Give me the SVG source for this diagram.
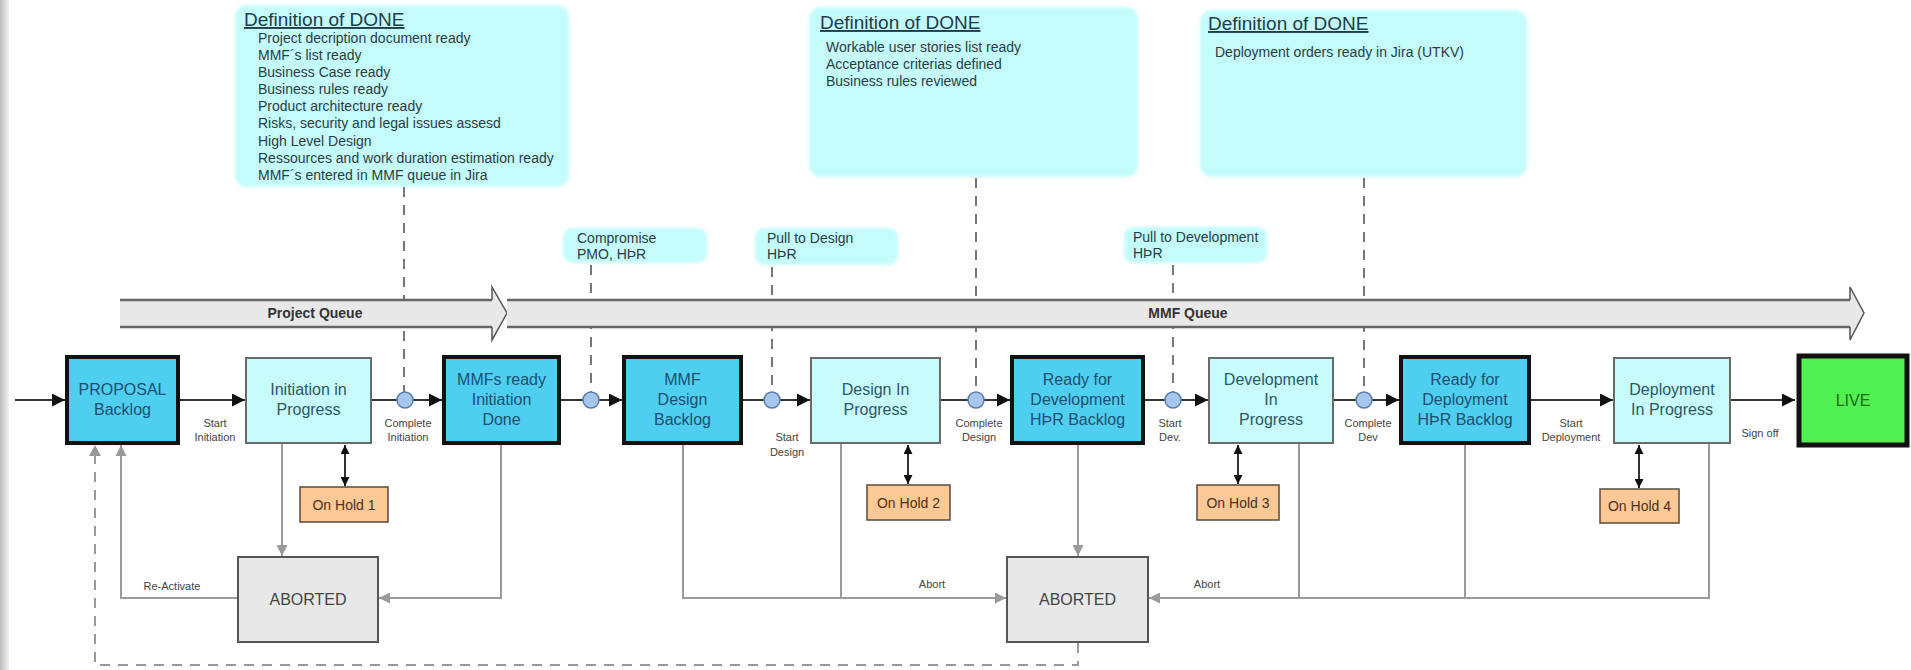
<svg xmlns="http://www.w3.org/2000/svg" width="1911" height="670" viewBox="0 0 1911 670">
<style>
.t{font-family:"Liberation Sans",Arial,Helvetica,sans-serif}
.dark{fill:#4fcff0;stroke:#111;stroke-width:4}
.light{fill:#c8fcfc;stroke:#6a6a6a;stroke-width:2}
.hold{fill:#fcc896;stroke:#5a4a3a;stroke-width:1.5}
.abort{fill:#e8e8e8;stroke:#555;stroke-width:2}
.live{fill:#4ff04f;stroke:#111;stroke-width:5}
.dod{fill:#c4fcfc}
.bx{font-size:16px;fill:#1d4e70;text-anchor:middle}
.lb{font-size:16px;fill:#2a5866;text-anchor:middle}
.ab{font-size:16px;fill:#444;text-anchor:middle}
.hl{font-size:14px;fill:#4a3020;text-anchor:middle}
.sm{font-size:11px;fill:#444;text-anchor:middle}
.dt{font-size:14px;fill:#2b3b44}
.ttl{font-size:19px;fill:#1f3b4b;text-decoration:underline}
.q{font-size:14px;font-weight:bold;fill:#333;text-anchor:middle}
.flow{stroke:#333;stroke-width:2;fill:none}
.gray{stroke:#9a9a9a;stroke-width:2;fill:none}
.dash{stroke:#777;stroke-width:2;stroke-dasharray:10 8;fill:none}
.circ{fill:#a6c6ee;stroke:#5a7aa8;stroke-width:1.5}
.bar{fill:#e8e8e8}
.barline{fill:none;stroke:#666;stroke-width:2.5}
</style>
<defs>
<linearGradient id="edge" x1="0" x2="1" y1="0" y2="0"><stop offset="0" stop-color="#bdbdbd"/><stop offset="1" stop-color="#f2f2f2"/></linearGradient>
<filter id="soft" x="-5%" y="-5%" width="110%" height="110%"><feGaussianBlur stdDeviation="1.5"/></filter>
<marker id="ab" viewBox="0 0 10 10" refX="10" refY="5" markerWidth="13" markerHeight="13" markerUnits="userSpaceOnUse" orient="auto"><path d="M0,0 L10,5 L0,10 z" fill="#111"/></marker>
<marker id="as" viewBox="0 0 10 10" refX="10" refY="5" markerWidth="9" markerHeight="9" markerUnits="userSpaceOnUse" orient="auto-start-reverse"><path d="M0,0 L10,5 L0,10 z" fill="#111"/></marker>
<marker id="ag" viewBox="0 0 10 10" refX="10" refY="5" markerWidth="11" markerHeight="11" markerUnits="userSpaceOnUse" orient="auto"><path d="M0,0 L10,5 L0,10 z" fill="#9a9a9a"/></marker>
</defs>
<rect x="0" y="0" width="1911" height="670" fill="#fff"/>
<rect x="0" y="0" width="9" height="670" fill="url(#edge)"/>

<g id="dod1">
<rect class="dod" x="235" y="5" width="334" height="182" rx="12" filter="url(#soft)"/>
<text class="t ttl" x="244" y="26">Definition of DONE</text>
<text class="t dt" x="258" y="43">Project decription document ready</text>
<text class="t dt" x="258" y="60">MMF´s list ready</text>
<text class="t dt" x="258" y="77">Business Case ready</text>
<text class="t dt" x="258" y="94">Business rules ready</text>
<text class="t dt" x="258" y="111">Product architecture ready</text>
<text class="t dt" x="258" y="128">Risks, security and legal issues assesd</text>
<text class="t dt" x="258" y="146">High Level Design</text>
<text class="t dt" x="258" y="163">Ressources and work duration estimation ready</text>
<text class="t dt" x="258" y="180">MMF´s entered in MMF queue in Jira</text>
</g>
<g id="dod2">
<rect class="dod" x="809" y="7" width="329" height="170" rx="12" filter="url(#soft)"/>
<text class="t ttl" x="820" y="29">Definition of DONE</text>
<text class="t dt" x="826" y="52">Workable user stories list ready</text>
<text class="t dt" x="826" y="69">Acceptance criterias defined</text>
<text class="t dt" x="826" y="86">Business rules reviewed</text>
</g>
<g id="dod3">
<rect class="dod" x="1200" y="10" width="327" height="167" rx="12" filter="url(#soft)"/>
<text class="t ttl" x="1208" y="30">Definition of DONE</text>
<text class="t dt" x="1215" y="57">Deployment orders ready in Jira (UTKV)</text>
</g>
<g id="compromise">
<rect class="dod" x="563" y="228" width="144" height="35" rx="9" filter="url(#soft)"/>
<text class="t dt" x="577" y="243">Compromise</text>
<text class="t dt" x="577" y="259">PMO, HÞR</text>
</g>
<g id="pulldesign">
<rect class="dod" x="755" y="228" width="143" height="37" rx="9" filter="url(#soft)"/>
<text class="t dt" x="767" y="243">Pull to Design</text>
<text class="t dt" x="767" y="259">HÞR</text>
</g>
<g id="pulldev">
<rect class="dod" x="1124" y="227" width="143" height="36" rx="9" filter="url(#soft)"/>
<text class="t dt" x="1133" y="242">Pull to Development</text>
<text class="t dt" x="1133" y="258">HÞR</text>
</g>

<g id="connectors">
<path class="dash" d="M404,187 V392"/>
<path class="dash" d="M591,265 V392"/>
<path class="dash" d="M772,267 V392"/>
<path class="dash" d="M976,178 V392"/>
<path class="dash" d="M1173,265 V392"/>
<path class="dash" d="M1364,178 V392"/>
<path class="flow" d="M15,400 H65" marker-end="url(#ab)"/>
<path class="flow" d="M180,400 H245" marker-end="url(#ab)"/>
<path class="flow" d="M372,400 H442" marker-end="url(#ab)"/>
<path class="flow" d="M561,400 H622" marker-end="url(#ab)"/>
<path class="flow" d="M743,400 H810" marker-end="url(#ab)"/>
<path class="flow" d="M941,400 H1010" marker-end="url(#ab)"/>
<path class="flow" d="M1145,400 H1208" marker-end="url(#ab)"/>
<path class="flow" d="M1334,400 H1399" marker-end="url(#ab)"/>
<path class="flow" d="M1531,400 H1613" marker-end="url(#ab)"/>
<path class="flow" d="M1731,400 H1795" marker-end="url(#ab)"/>
<path class="flow" d="M345,445 V486" marker-start="url(#as)" marker-end="url(#as)"/>
<path class="flow" d="M908,445 V484" marker-start="url(#as)" marker-end="url(#as)"/>
<path class="flow" d="M1238,445 V484" marker-start="url(#as)" marker-end="url(#as)"/>
<path class="flow" d="M1639,445 V488" marker-start="url(#as)" marker-end="url(#as)"/>
<path class="gray" d="M282,444 V556" marker-end="url(#ag)"/>
<path class="gray" d="M501,445 V598 H379" marker-end="url(#ag)"/>
<path class="gray" d="M237,598 H121 V445" marker-end="url(#ag)"/>
<path class="gray" d="M683,445 V598 H1006" marker-end="url(#ag)"/>
<path class="gray" d="M841,444 V598"/>
<path class="gray" d="M1078,445 V556" marker-end="url(#ag)"/>
<path class="gray" d="M1709,444 V598 H1149" marker-end="url(#ag)"/>
<path class="gray" d="M1299,444 V598"/>
<path class="gray" d="M1465,445 V598"/>
<path class="dash" style="stroke:#999" d="M1078,643 V665 H95 V447"/>
<path d="M89,456 L95,445 L101,456 z" fill="#999"/>
<circle class="circ" cx="405" cy="400" r="8"/>
<circle class="circ" cx="591" cy="400" r="8"/>
<circle class="circ" cx="772" cy="400" r="8"/>
<circle class="circ" cx="976" cy="400" r="8"/>
<circle class="circ" cx="1173" cy="400" r="8"/>
<circle class="circ" cx="1364" cy="400" r="8"/>
<text class="t sm" x="215" y="427">Start</text><text class="t sm" x="215" y="441">Initiation</text>
<text class="t sm" x="408" y="427">Complete</text><text class="t sm" x="408" y="441">Initiation</text>
<text class="t sm" x="787" y="441">Start</text><text class="t sm" x="787" y="456">Design</text>
<text class="t sm" x="979" y="427">Complete</text><text class="t sm" x="979" y="441">Design</text>
<text class="t sm" x="1170" y="427">Start</text><text class="t sm" x="1170" y="441">Dev.</text>
<text class="t sm" x="1368" y="427">Complete</text><text class="t sm" x="1368" y="441">Dev</text>
<text class="t sm" x="1571" y="427">Start</text><text class="t sm" x="1571" y="441">Deployment</text>
<text class="t sm" x="1760" y="437">Sign off</text>
<text class="t sm" x="932" y="588">Abort</text>
<text class="t sm" x="1207" y="588">Abort</text>
<text class="t sm" x="172" y="590">Re-Activate</text>
</g>

<g id="projectqueue">
<polygon class="bar" points="120,300 492,300 492,287 507,313 492,340 492,327 120,327"/>
<polyline class="barline" points="120,300 492,300"/>
<polyline class="barline" points="120,327 492,327"/>
<polyline fill="none" stroke="#555" stroke-width="1.5" points="492,300 492,287 507,313 492,340 492,327"/>
<text class="t q" x="315" y="318">Project Queue</text>
</g>
<g id="mmfqueue">
<polygon class="bar" points="507,300 1850,300 1850,287 1864,313 1850,340 1850,327 507,327"/>
<polyline class="barline" points="507,300 1850,300"/>
<polyline class="barline" points="507,327 1850,327"/>
<polyline fill="none" stroke="#555" stroke-width="1.5" points="1850,300 1850,287 1864,313 1850,340 1850,327"/>
<text class="t q" x="1188" y="318">MMF Queue</text>
</g>

<g id="proposal"><rect class="dark" x="67" y="357" width="111" height="86"/>
<text class="t bx" x="122.5" y="395">PROPOSAL</text><text class="t bx" x="122.5" y="415">Backlog</text></g>
<g id="initiation"><rect class="light" x="246" y="358" width="125" height="85"/>
<text class="t lb" x="308.5" y="395">Initiation in</text><text class="t lb" x="308.5" y="415">Progress</text></g>
<g id="mmfsready"><rect class="dark" x="444" y="357" width="115" height="86"/>
<text class="t bx" x="501.5" y="385">MMFs ready</text><text class="t bx" x="501.5" y="405">Initiation</text><text class="t bx" x="501.5" y="425">Done</text></g>
<g id="mmfdesign"><rect class="dark" x="624" y="357" width="117" height="86"/>
<text class="t bx" x="682.5" y="385">MMF</text><text class="t bx" x="682.5" y="405">Design</text><text class="t bx" x="682.5" y="425">Backlog</text></g>
<g id="designin"><rect class="light" x="811" y="358" width="129" height="85"/>
<text class="t lb" x="875.5" y="395">Design In</text><text class="t lb" x="875.5" y="415">Progress</text></g>
<g id="readydev"><rect class="dark" x="1012" y="357" width="131" height="86"/>
<text class="t bx" x="1077.5" y="385">Ready for</text><text class="t bx" x="1077.5" y="405">Development</text><text class="t bx" x="1077.5" y="425">HÞR Backlog</text></g>
<g id="devin"><rect class="light" x="1209" y="358" width="124" height="85"/>
<text class="t lb" x="1271" y="385">Development</text><text class="t lb" x="1271" y="405">In</text><text class="t lb" x="1271" y="425">Progress</text></g>
<g id="readydep"><rect class="dark" x="1401" y="357" width="128" height="86"/>
<text class="t bx" x="1465" y="385">Ready for</text><text class="t bx" x="1465" y="405">Deployment</text><text class="t bx" x="1465" y="425">HÞR Backlog</text></g>
<g id="depin"><rect class="light" x="1614" y="358" width="116" height="85"/>
<text class="t lb" x="1672" y="395">Deployment</text><text class="t lb" x="1672" y="415">In Progress</text></g>
<g id="live"><rect class="live" x="1799" y="356" width="108" height="89"/>
<text class="t" x="1853" y="406" font-size="16" fill="#1a6a1a" text-anchor="middle">LIVE</text></g>

<g id="hold1"><rect class="hold" x="300" y="487" width="88" height="35"/><text class="t hl" x="344" y="509.5">On Hold 1</text></g>
<g id="hold2"><rect class="hold" x="867" y="485" width="83" height="35"/><text class="t hl" x="908.5" y="507.5">On Hold 2</text></g>
<g id="hold3"><rect class="hold" x="1197" y="485" width="82" height="35"/><text class="t hl" x="1238" y="507.5">On Hold 3</text></g>
<g id="hold4"><rect class="hold" x="1600" y="489" width="79" height="34"/><text class="t hl" x="1639.5" y="511">On Hold 4</text></g>

<g id="aborted1"><rect class="abort" x="238" y="557" width="140" height="85"/><text class="t ab" x="308" y="605">ABORTED</text></g>
<g id="aborted2"><rect class="abort" x="1007" y="557" width="141" height="85"/><text class="t ab" x="1077.5" y="605">ABORTED</text></g>
</svg>
